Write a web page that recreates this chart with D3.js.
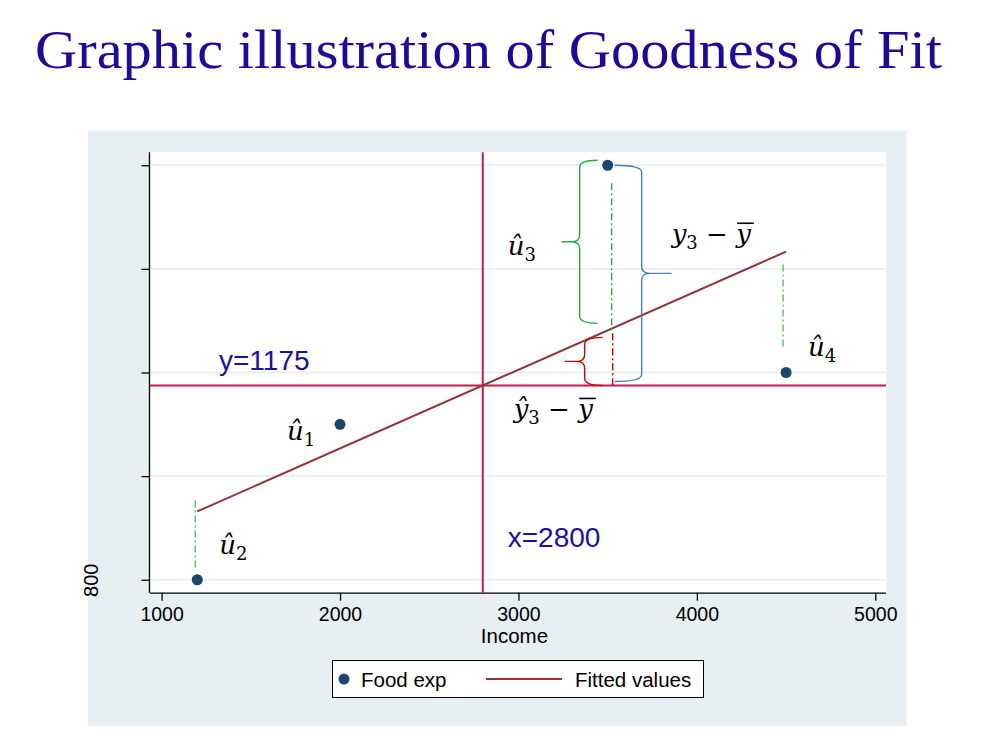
<!DOCTYPE html>
<html><head><meta charset="utf-8">
<script src="https://cdn.jsdelivr.net/npm/d3@7"></script>
<style>body{margin:0;background:#fff}</style>
</head><body>
<svg id="chart" width="990" height="747"></svg>
<script>
// ---- data ----
const income  = [1200, 2000, 3500, 4500];
const foodExp = [800, 1100, 1600, 1200];
const xTicks = [1000, 2000, 3000, 4000, 5000];
const xTickLabels = ["1000", "2000", "3000", "4000", "5000"];
const yTicks = [800, 1000, 1200, 1400, 1600];
const yTickLabels = ["800", "", "", "", ""];
const seriesNames = ["Food exp", "Fitted values"];
const titleText = "Graphic illustration of Goodness of Fit";
const xTitle = "Income";

// ---- derived statistics ----
const xbar = d3.mean(income), ybar = d3.mean(foodExp);
const sxy = d3.sum(income, (v, i) => (v - xbar) * (foodExp[i] - ybar));
const sxx = d3.sum(income, v => (v - xbar) ** 2);
const slope = sxy / sxx, icpt = ybar - slope * xbar;
const fit = v => icpt + slope * v;
const pts = income.map((v, i) => ({x: v, y: foodExp[i]}));

const svg = d3.select("#chart");
const plot = {l: 150, r: 886, t: 152.3, b: 592.7};
const x = d3.scaleLinear().domain([935, 5060]).range([plot.l, plot.r]);
const y = d3.scaleLinear().domain([775, 1625]).range([plot.b, plot.t]);

const NAVY = "#1a476f", MAROON = "#90353b", CRIMSON = "#c8194a", TXTBLUE = "#1c0fa8";
const SANS = "Liberation Sans, Arial, sans-serif";

// title
svg.append("text").attr("x", 35).attr("y", 68)
  .attr("font-family", "Liberation Serif, serif").attr("font-size", 55)
  .attr("fill", "#1a0aa2").attr("textLength", 907).attr("lengthAdjust", "spacingAndGlyphs")
  .text(titleText);

// graph region
svg.append("rect").attr("x", 88).attr("y", 130.5).attr("width", 818.5).attr("height", 595.5).attr("fill", "#e8eff2");
svg.append("rect").attr("x", plot.l).attr("y", plot.t).attr("width", plot.r - plot.l).attr("height", plot.b - plot.t).attr("fill", "#fff");

// grid
svg.append("g").selectAll("line").data(yTicks).join("line")
  .attr("x1", plot.l).attr("x2", plot.r).attr("y1", d => y(d)).attr("y2", d => y(d))
  .attr("stroke", "#e9eff2").attr("stroke-width", 2);

// axes
const xAxis = d3.axisBottom(x).tickValues(xTicks).tickFormat((d, i) => xTickLabels[i]).tickSize(8).tickPadding(6);
const gx = svg.append("g").attr("transform", `translate(0,${plot.b})`).call(xAxis);
gx.select(".domain").attr("d", `M${plot.l},0.5H${plot.r}`).attr("stroke", "#000").attr("stroke-width", 1.3);
gx.selectAll(".tick line").attr("stroke", "#000").attr("stroke-width", 1.3);
gx.selectAll(".tick text").attr("font-family", SANS).attr("font-size", 19.5).attr("fill", "#000").attr("dy", "0.75em");

const yAxis = d3.axisLeft(y).tickValues(yTicks).tickFormat((d, i) => yTickLabels[i]).tickSize(8).tickPadding(4);
const gy = svg.append("g").attr("transform", `translate(${plot.l - 0.5},0)`).call(yAxis);
gy.select(".domain").attr("d", `M0,${plot.t}V${plot.b}`).attr("stroke", "#000").attr("stroke-width", 1.3);
gy.selectAll(".tick line").attr("stroke", "#000").attr("stroke-width", 1.3);
gy.selectAll(".tick text").attr("font-family", SANS).attr("font-size", 20).attr("fill", "#000")
  .attr("text-anchor", "middle").attr("transform", "rotate(-90)")
  .attr("x", 0).attr("y", -59).attr("dy", "0.35em");

svg.append("text").attr("x", x(3000) - 4).attr("y", 643).attr("text-anchor", "middle")
  .attr("font-family", SANS).attr("font-size", 20.5).text(xTitle);

// mean lines
svg.append("line").attr("x1", plot.l).attr("x2", plot.r).attr("y1", y(ybar)).attr("y2", y(ybar))
  .attr("stroke", CRIMSON).attr("stroke-width", 2);
svg.append("line").attr("x1", x(xbar)).attr("x2", x(xbar)).attr("y1", plot.t).attr("y2", plot.b)
  .attr("stroke", CRIMSON).attr("stroke-width", 2);

// fitted line
const [xmin, xmax] = d3.extent(income);
svg.append("path").datum([xmin, xmax])
  .attr("d", d3.line().x(d => x(d)).y(d => y(fit(d))))
  .attr("stroke", MAROON).attr("stroke-width", 2).attr("fill", "none");

// residual dash-dot lines
const DASH = "7,3,2,3";
function vline(xp, y1, y2, color) {
  svg.append("line").attr("x1", xp).attr("x2", xp).attr("y1", y1).attr("y2", y2)
    .attr("stroke", color).attr("stroke-width", 1.4).attr("stroke-dasharray", DASH);
}
vline(x(income[0]) - 2, y(fit(income[0])) - 11, y(foodExp[0]) - 9, "#4cc46a");
vline(x(income[3]) - 3, y(fit(income[3])) + 13, y(foodExp[3]) - 26, "#4cc46a");
vline(x(income[2]) + 4, y(foodExp[2]) + 18, y(fit(income[2])) + 3, "#2ca84a");
vline(x(income[2]) + 5, y(fit(income[2])) + 3, y(ybar), "#c00000");

// braces
function brace(spine, tipX, endX, y0, y1, color) {
  const ym = (y0 + y1) / 2, r = 7, dir = Math.sign(tipX - spine);
  const p = `M${endX},${y0} Q${spine},${y0} ${spine},${y0 + r} L${spine},${ym - r} Q${spine},${ym} ${spine + dir * 8},${ym} L${tipX},${ym} M${spine + dir * 8},${ym} Q${spine},${ym} ${spine},${ym + r} L${spine},${y1 - r} Q${spine},${y1} ${endX},${y1}`;
  svg.append("path").attr("d", p).attr("fill", "none").attr("stroke", color).attr("stroke-width", 1.4);
}
const x3 = x(income[2]);
brace(x3 - 28, x3 - 46, x3 - 10, y(foodExp[2]) - 5, y(fit(income[2])) - 7, "#22aa44");
brace(x3 + 34, x3 + 64, x3 + 7, y(foodExp[2]), y(ybar) - 4, "#4a7ebb");
brace(x3 - 23, x3 - 43, x3 - 5, y(fit(income[2])) + 7, y(ybar), "#d00000");

// points
svg.append("g").selectAll("circle").data(pts).join("circle")
  .attr("cx", d => x(d.x)).attr("cy", d => y(d.y)).attr("r", 5.5).attr("fill", NAVY);

// reference-line labels
svg.append("text").attr("x", 219).attr("y", y(ybar) - 15)
  .attr("font-family", SANS).attr("font-size", 28).attr("fill", TXTBLUE)
  .text("y=" + ybar);
svg.append("text").attr("x", x(xbar) + 25).attr("y", 547)
  .attr("font-family", SANS).attr("font-size", 28).attr("fill", TXTBLUE)
  .text("x=" + xbar);

// math labels
const MF = "DejaVu Serif, serif";
function mathLabel(x0, y0, parts) {
  const t = svg.append("text").attr("x", x0).attr("y", y0).attr("font-family", MF).attr("font-size", 26).attr("fill", "#000");
  let shifted = false, idx = 0;
  const bars = [];
  parts.forEach(p => {
    const ts = t.append("tspan").text(p.t);
    if (p.it) ts.attr("font-style", "italic");
    if (p.sub) { ts.attr("font-size", 18).attr("dy", 6); shifted = true; }
    else if (shifted) { ts.attr("dy", -6); shifted = false; }
    if (p.bar) bars.push(idx);
    idx += p.t.length;
  });
  const node = t.node();
  bars.forEach(i => {
    const s = node.getStartPositionOfChar(i), e = node.getEndPositionOfChar(i);
    svg.append("line").attr("x1", s.x + 1).attr("x2", e.x + 3).attr("y1", y0 - 20).attr("y2", y0 - 20)
      .attr("stroke", "#000").attr("stroke-width", 1.6);
  });
}
const uh = n => [{t: "\u00fb", it: true}, {t: String(n), sub: true}];
mathLabel(x(income[1]) - 53, y(foodExp[1]) + 16, uh(1));
mathLabel(x(income[0]) + 22, y(foodExp[0]) - 26, uh(2));
mathLabel(x3 - 100, y(foodExp[2]) + 90, uh(3));
mathLabel(x(income[3]) + 22, y(foodExp[3]) - 17, uh(4));
mathLabel(x3 + 64, y(foodExp[2]) + 78, [{t: "y", it: true}, {t: "3", sub: true}, {t: " \u2212 "}, {t: "y", it: true, bar: true}]);
mathLabel(x3 - 94, y(ybar) + 33, [{t: "\u0177", it: true}, {t: "3", sub: true}, {t: " \u2212 "}, {t: "y", it: true, bar: true}]);

// legend
const lg = svg.append("g");
lg.append("rect").attr("x", 332.5).attr("y", 660.5).attr("width", 371).attr("height", 37).attr("fill", "#fff").attr("stroke", "#000").attr("stroke-width", 1);
lg.append("circle").attr("cx", 344).attr("cy", 679).attr("r", 5.5).attr("fill", NAVY);
lg.append("text").attr("x", 361).attr("y", 686.5).attr("font-family", SANS).attr("font-size", 20.5).text(seriesNames[0]);
lg.append("line").attr("x1", 486).attr("x2", 562).attr("y1", 679).attr("y2", 679).attr("stroke", MAROON).attr("stroke-width", 2);
lg.append("text").attr("x", 575).attr("y", 686.5).attr("font-family", SANS).attr("font-size", 20.5).text(seriesNames[1]);
</script>
</body></html>
